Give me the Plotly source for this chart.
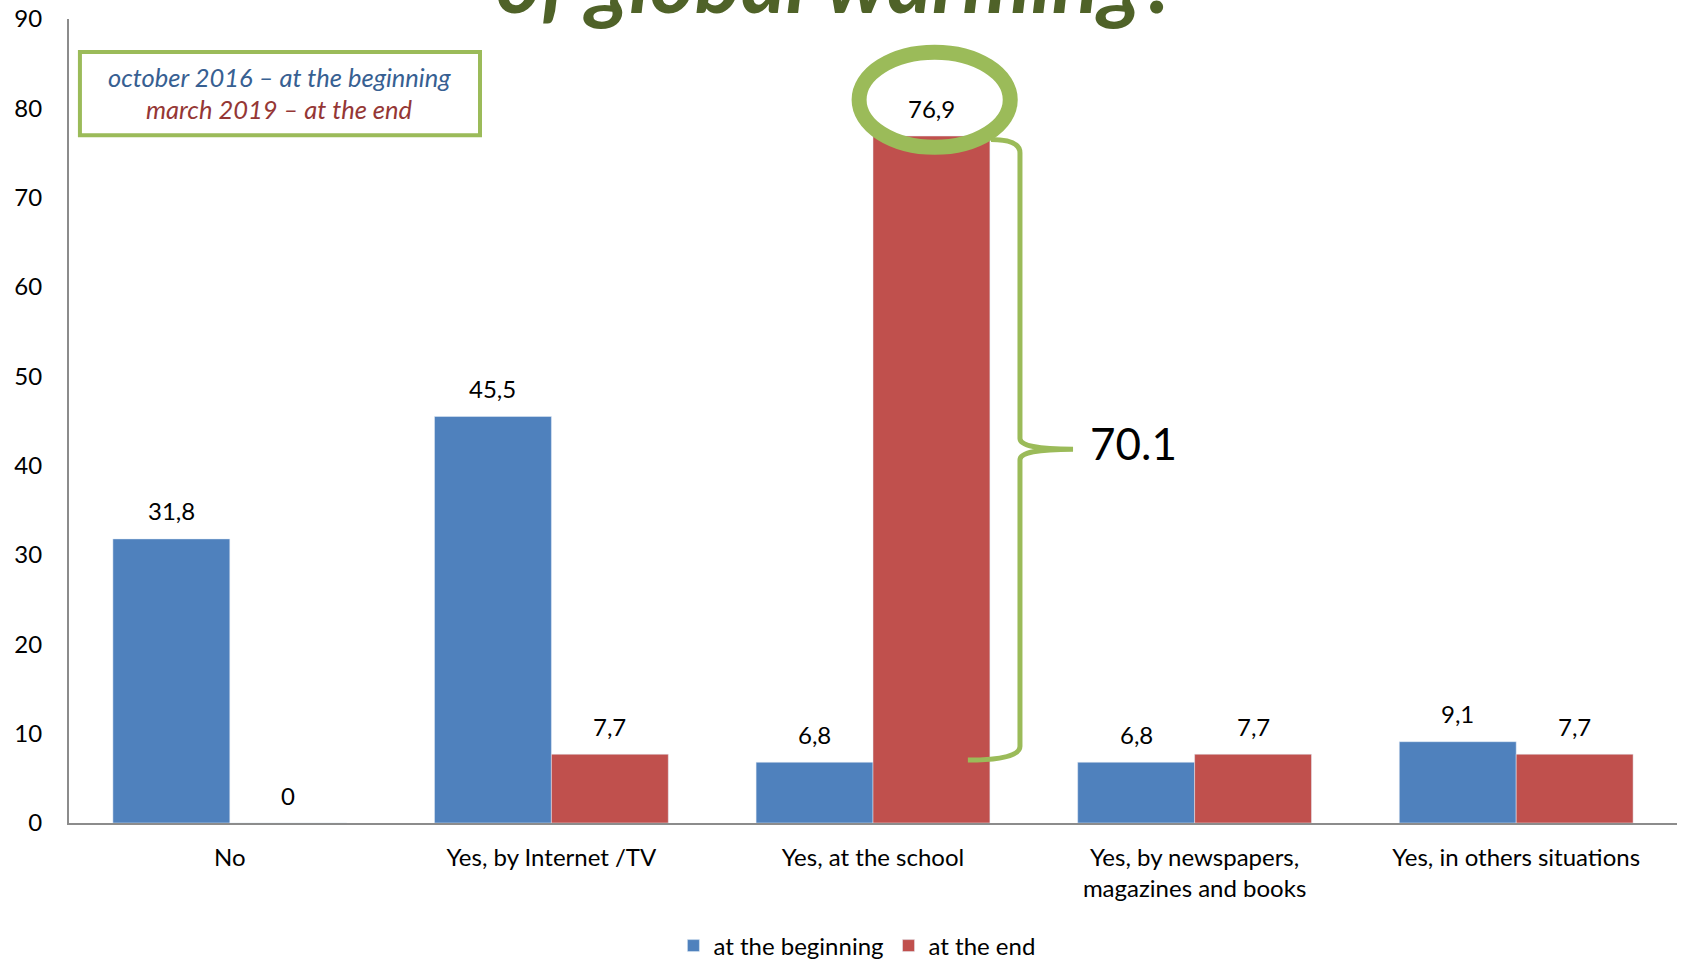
import plotly.graph_objects as go

# ---------------- data ----------------
categories = ["No", "Yes, by Internet /TV", "Yes, at the school",
              "Yes, by newspapers,<br>magazines and books", "Yes, in others situations"]
at_beginning = [31.8, 45.5, 6.8, 6.8, 9.1]
at_end = [0, 7.7, 76.9, 7.7, 7.7]
series_names = ["at the beginning", "at the end"]
y_tick_values = [0, 10, 20, 30, 40, 50, 60, 70, 80, 90]
title_text = "of global warming?"
box_lines = ["october 2016 – at the beginning", "march 2019 – at the end"]
highlight_index = 2
diff_label = "70.1"

# ---------------- styles ----------------
FONT = "Lato, Carlito, Calibri, sans-serif"
BLUE = "#4F81BD"
RED = "#C0504D"
GREEN = "#9BBB59"
AXIS = "#8C8C8C"
BARGAP = 0.273
FS = 24
half = (1 - BARGAP) / 4  # offset of each bar centre from category centre


def fmt(v):
    return str(int(v)) if float(v).is_integer() else f"{v:.1f}".replace(".", ",")


xs = list(range(len(categories)))

fig = go.Figure()
fig.add_trace(go.Bar(x=xs, y=at_beginning, name=series_names[0], marker=dict(color=BLUE)))
fig.add_trace(go.Bar(x=xs, y=at_end, name=series_names[1], marker=dict(color=RED)))

annotations = []
for i, (b, e) in enumerate(zip(at_beginning, at_end)):
    annotations.append(dict(x=i - half, y=b, text=fmt(b), showarrow=False, yshift=28,
                            xanchor="center", yanchor="middle",
                            font=dict(family=FONT, size=FS, color="black")))
    annotations.append(dict(x=i + half, y=e, text=fmt(e), showarrow=False, yshift=28,
                            xanchor="center", yanchor="middle",
                            font=dict(family=FONT, size=FS, color="black")))

# highlight: ellipse around the top label, brace between the two school values
hx = highlight_index + half
top_v = at_end[highlight_index]
bot_v = at_beginning[highlight_index]
mid_v = (top_v + bot_v) / 2
shapes = [
    dict(type="circle", xref="x", yref="y", x0=hx - 0.225, x1=hx + 0.245,
         y0=top_v - 1.26, y1=top_v + 9.38, line=dict(color=GREEN, width=15)),
]
bx = highlight_index + 0.457
tipx = highlight_index + 0.622
path = (f"M {highlight_index+0.367},{top_v-0.4} Q {bx},{top_v-0.4} {bx},{top_v-1.9} "
        f"L {bx},{mid_v+1.2} Q {bx},{mid_v} {tipx},{mid_v} "
        f"Q {bx},{mid_v} {bx},{mid_v-1.2} "
        f"L {bx},{bot_v+1.8} Q {bx},{bot_v+0.25} {highlight_index+0.295},{bot_v+0.25}")
shapes.append(dict(type="path", xref="x", yref="y", path=path,
                   line=dict(color=GREEN, width=5)))
annotations.append(dict(x=tipx + 0.047, y=mid_v + 0.7, text=diff_label, showarrow=False,
                        xanchor="left", yanchor="middle",
                        font=dict(family=FONT, size=44, color="black")))

# top-left key box
shapes.append(dict(type="rect", xref="x", yref="y", x0=-0.466, x1=0.778, y0=77.0, y1=86.3,
                   line=dict(color=GREEN, width=4), fillcolor="white", layer="above"))
annotations.append(dict(x=0.156, y=83.5, text=f"<i>{box_lines[0]}</i>", showarrow=False,
                        xanchor="center", yanchor="middle",
                        font=dict(family=FONT, size=25.5, color="#376092")))
annotations.append(dict(x=0.156, y=79.9, text=f"<i>{box_lines[1]}</i>", showarrow=False,
                        xanchor="center", yanchor="middle",
                        font=dict(family=FONT, size=25.5, color="#953735")))

# clipped title at the top
annotations.append(dict(x=0.478, y=1.0, xref="paper", yref="paper", text=f"<b><i>{title_text}</i></b>",
                        showarrow=False, xanchor="center", yanchor="middle", yshift=40,
                        font=dict(family=FONT, size=86, color="#4F6228")))

fig.update_layout(
    width=1681, height=959,
    margin=dict(l=69, r=4, t=19, b=136, autoexpand=False),
    paper_bgcolor="white", plot_bgcolor="white",
    barmode="group", bargap=BARGAP, bargroupgap=0,
    font=dict(family=FONT, size=FS, color="black"),
    xaxis=dict(range=[-0.5, len(categories) - 0.5], tickvals=xs, ticktext=categories,
               showline=True, linecolor=AXIS, linewidth=2, showgrid=False, zeroline=False,
               automargin=False,
               ticks="", ticklabelstandoff=12, tickfont=dict(family=FONT, size=FS, color="black")),
    yaxis=dict(range=[0, 90], tickvals=y_tick_values, showline=True, linecolor=AXIS, linewidth=2,
               showgrid=False, zeroline=False, ticks="", ticklabelstandoff=20, automargin=False,
               tickfont=dict(family=FONT, size=FS, color="black")),
    legend=dict(orientation="h", x=0.49, xanchor="center", y=-0.153, yanchor="middle",
                font=dict(family=FONT, size=FS, color="black"), itemwidth=30),
    showlegend=True,
    shapes=shapes,
    annotations=annotations,
)

fig.write_html("out.html", config={"displayModeBar": False},
               post_script="document.body.style.margin='0';")
